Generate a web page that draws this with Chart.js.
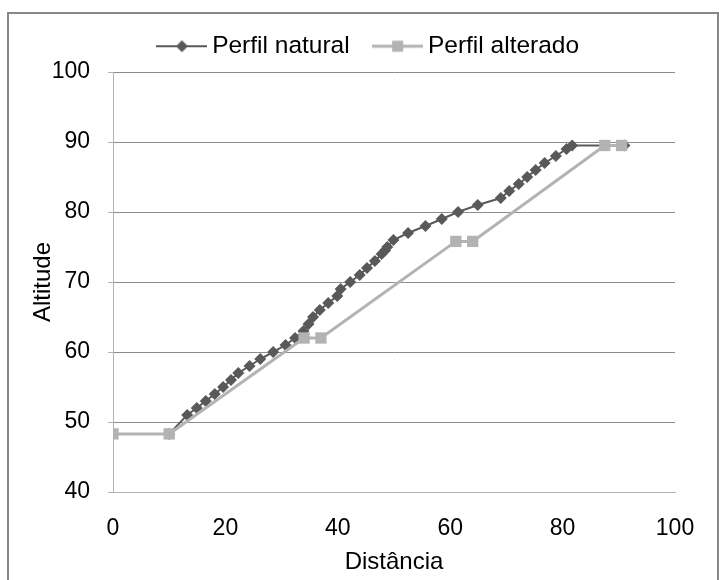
<!DOCTYPE html>
<html>
<head>
<meta charset="utf-8">
<script src="https://cdn.jsdelivr.net/npm/chart.js@4.4.0/dist/chart.umd.min.js"></script>
<style>
  html, body { margin: 0; padding: 0; background: #fff; overflow: hidden; }
  #wrap { position: relative; width: 719px; height: 580px; }
  #frame {
    position: absolute; left: 7px; top: 12px; width: 708px; height: 620px;
    border: 2px solid #878787; pointer-events: none;
  }
</style>
</head>
<body>
<div id="wrap">
  <canvas id="chart" width="719" height="580"></canvas>
  <div id="frame"></div>
</div>
<script>
// Perfil natural
const naturalDist = [10, 13.2, 14.9, 16.5, 18.1, 19.6, 21.0, 22.3, 24.3, 26.2, 28.5, 30.7, 32.4, 33.9, 34.8, 35.6, 36.8, 38.3, 39.9, 40.5,
    42.2, 43.9, 45.2, 46.6, 47.8, 48.4, 48.8, 49.9, 52.5, 55.6, 58.5, 61.4, 64.9, 69.0, 70.5, 72.2, 73.7, 75.2, 76.8, 78.8, 80.7, 81.7, 91];
const naturalAlt = [48.3, 51, 52, 53, 54, 55, 56, 57, 58, 59, 60, 61, 62, 63, 64, 65, 66, 67, 68, 69,
    70, 71, 72, 73, 74, 74.5, 75, 76, 77, 78, 79, 80, 81, 82, 83, 84, 85, 86, 87, 88, 89, 89.5, 89.5];

// Perfil alterado
const alteredDist = [0, 10, 34, 37, 61, 64, 87.5, 90.5];
const alteredAlt = [48.3, 48.3, 62, 62, 75.8, 75.8, 89.5, 89.5];

const seriesLabels = ["Perfil natural", "Perfil alterado"];
const xTicks = [0, 20, 40, 60, 80, 100];
const yTicks = [40, 50, 60, 70, 80, 90, 100];

const darkGray = "#595959";
const lightGray = "#b3b3b3";
const font = "Liberation Sans, Arial";

function toPoints(xs, ys) {
    return xs.map((x, i) => ({ x: x, y: ys[i] }));
}

// legend icon: line with marker in the middle
function legendIcon(color, lineWidth, shape, size) {
    const w = 51;
    const c = document.createElement("canvas");
    c.width = w;
    c.height = 16;
    const g = c.getContext("2d");
    g.strokeStyle = color;
    g.lineWidth = lineWidth;
    g.beginPath();
    g.moveTo(0, 8);
    g.lineTo(w, 8);
    g.stroke();
    g.fillStyle = color;
    g.beginPath();
    if (shape === "diamond") {
        g.moveTo(w / 2 - size, 8);
        g.lineTo(w / 2, 8 - size);
        g.lineTo(w / 2 + size, 8);
        g.lineTo(w / 2, 8 + size);
        g.closePath();
    } else {
        g.rect(w / 2 - size, 8 - size, size * 2, size * 2);
    }
    g.fill();
    return c;
}

const icons = [
    legendIcon(darkGray, 2, "diamond", 6),
    legendIcon(lightGray, 3, "square", 5.5)
];

const legendHeight = {
    id: "legendHeight",
    beforeInit(chart) {
        const fit = chart.legend.fit;
        chart.legend.fit = function () {
            fit.bind(chart.legend)();
            this.height = 68;
        };
    }
};

const ctx = document.getElementById("chart").getContext("2d");
new Chart(ctx, {
    type: "scatter",
    data: {
        datasets: [
            {
                label: seriesLabels[0],
                data: toPoints(naturalDist, naturalAlt),
                showLine: true,
                borderColor: darkGray,
                backgroundColor: darkGray,
                borderWidth: 2,
                pointStyle: "rectRot",
                pointRadius: 6,
                pointBorderWidth: 0,
                order: 2
            },
            {
                label: seriesLabels[1],
                data: toPoints(alteredDist, alteredAlt),
                showLine: true,
                borderColor: lightGray,
                backgroundColor: lightGray,
                borderWidth: 3,
                pointStyle: "rect",
                pointRadius: 8,
                pointBorderWidth: 0,
                order: 1
            }
        ]
    },
    options: {
        responsive: false,
        animation: false,
        layout: { padding: { left: 24, right: 0, top: 4, bottom: 0 } },
        plugins: {
            tooltip: { enabled: false },
            legend: {
                position: "top",
                labels: {
                    usePointStyle: true,
                    pointStyleWidth: 36,
                    padding: 30,
                    color: "#000",
                    font: { family: font, size: 24.5 },
                    sort: (a, b) => a.datasetIndex - b.datasetIndex,
                    generateLabels(chart) {
                        const items = Chart.defaults.plugins.legend.labels.generateLabels(chart);
                        items.forEach((it) => { it.pointStyle = icons[it.datasetIndex]; });
                        return items;
                    }
                }
            }
        },
        scales: {
            x: {
                type: "linear",
                min: 0,
                max: 100,
                afterBuildTicks(scale) {
                    scale.ticks = xTicks.map((v) => ({ value: v }));
                },
                afterFit(scale) { scale.height = 88; },
                grid: { display: false, drawTicks: false },
                border: { display: true, color: lightGray, width: 1 },
                ticks: {
                    padding: 23,
                    color: "#000",
                    font: { family: font, size: 23 }
                },
                title: {
                    display: true,
                    text: "Distância",
                    color: "#000",
                    padding: { top: 0, bottom: 3 },
                    font: { family: font, size: 24 }
                }
            },
            y: {
                type: "linear",
                min: 40,
                max: 100,
                afterBuildTicks(scale) {
                    scale.ticks = yTicks.map((v) => ({ value: v }));
                },
                afterFit(scale) { scale.width = 89; },
                grid: {
                    color: (c) => (c.tick && c.tick.value === 40 ? lightGray : "#8c8c8c"),
                    tickColor: lightGray,
                    tickLength: 5,
                    lineWidth: 1
                },
                border: { display: true, color: lightGray, width: 1 },
                ticks: {
                    padding: 18,
                    color: "#000",
                    font: { family: font, size: 23 }
                },
                title: {
                    display: true,
                    text: "Altitude",
                    color: "#000",
                    padding: { top: 5, bottom: 0 },
                    font: { family: font, size: 24 }
                }
            },
            y2: {
                type: "linear",
                position: "right",
                display: true,
                afterFit(scale) { scale.width = 44; },
                grid: { display: false, drawTicks: false },
                border: { display: false },
                ticks: { display: false }
            }
        }
    },
    plugins: [legendHeight]
});
</script>
</body>
</html>
